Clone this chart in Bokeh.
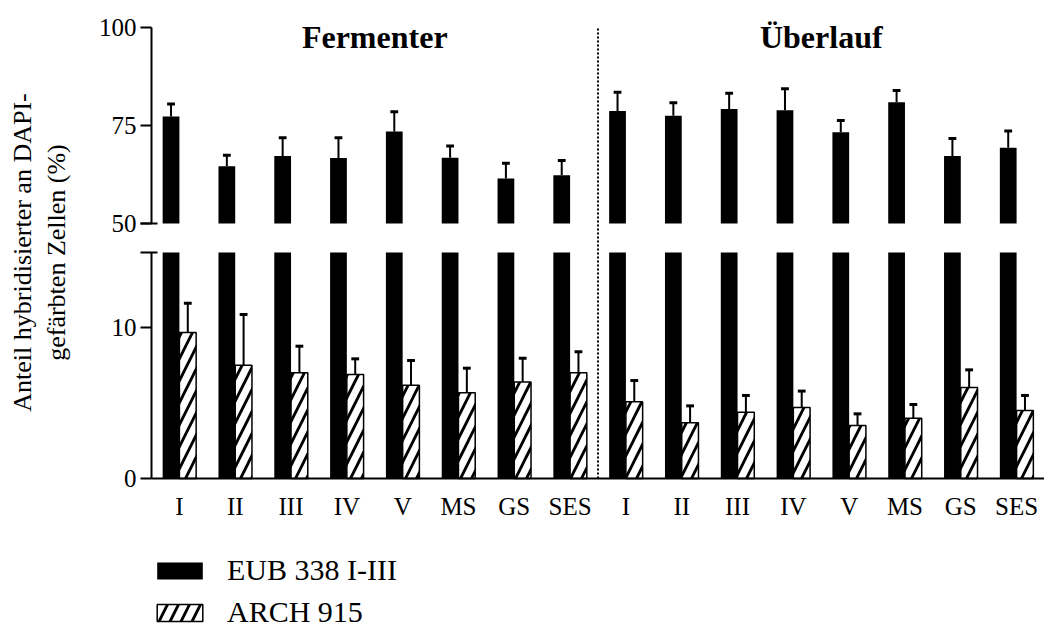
import numpy as np
from bokeh.plotting import figure
from bokeh.models import (Range1d, LinearAxis, FixedTicker, Label,
                          Legend, LegendItem, ColumnDataSource)
from bokeh.embed import file_html
from bokeh.resources import INLINE

# ---------------- data ----------------
categories = ["I", "II", "III", "IV", "V", "MS", "GS", "SES",
              "I", "II", "III", "IV", "V", "MS", "GS", "SES"]
group_names = ["Fermenter", "Überlauf"]
eub_338 = [77.3, 64.6, 67.2, 66.7, 73.5, 66.8, 61.5, 62.3,
           78.7, 77.5, 79.2, 78.9, 73.3, 80.9, 67.2, 69.3]
eub_338_err = [3.2, 2.8, 4.7, 5.2, 5.0, 3.0, 3.9, 3.8,
               4.8, 3.3, 4.0, 5.5, 3.0, 3.0, 4.5, 4.3]
arch_915 = [9.69, 7.52, 7.01, 6.90, 6.19, 5.69, 6.41, 7.01,
            5.09, 3.70, 4.40, 4.71, 3.52, 4.00, 6.04, 4.51]
arch_915_err = [1.94, 3.36, 1.77, 1.04, 1.64, 1.63, 1.57, 1.40,
                1.41, 1.12, 1.11, 1.09, 0.77, 0.91, 1.17, 1.00]
lower_ticks = [0, 10]
upper_ticks = [50, 75, 100]
lower_break = 15
upper_break = 50

FONT = "Liberation Serif"
W, H = 1044, 632

# ---------------- layout geometry (pixels) ----------------
frame_left = 151          # x of y axis
y0_px = 478               # pixel row of value 0 (lower panel)
lower_ppu = 15.07         # px per unit, lower panel
top_px = 27               # pixel row of value 100 (upper panel)
upper_ppu = 3.92          # px per unit, upper panel

n = len(categories)
xppu = (W - frame_left) / n
x_start = -0.5 - frame_left / xppu
lower_range = Range1d(-(H - y0_px) / lower_ppu, y0_px / lower_ppu)
upper_range = Range1d(upper_ticks[-1] - (H - top_px) / upper_ppu,
                      upper_ticks[-1] + top_px / upper_ppu)

idx = np.arange(n)
bw = 0.3
x_eub = idx - bw / 2
x_arch = idx + bw / 2
cap = 0.07

eub = np.array(eub_338)
eub_err = np.array(eub_338_err)
arch = np.array(arch_915)
arch_err = np.array(arch_915_err)

p = figure(width=W, height=H, x_range=Range1d(x_start, n - 0.5),
           y_range=lower_range, output_backend="svg", toolbar_location=None,
           min_border=0, min_border_left=0, min_border_right=0,
           min_border_top=0, min_border_bottom=0, outline_line_color=None,
           x_axis_location=None, y_axis_location=None)
p.grid.visible = False
p.extra_y_ranges = {"upper": upper_range}

# lower (broken) part of EUB bars
src_low = ColumnDataSource(dict(x=x_eub, top=np.minimum(eub, lower_break)))
p.vbar(x="x", top="top", bottom=0, width=bw, source=src_low,
       fill_color="black", line_color=None)
# upper part of EUB bars
src_up = ColumnDataSource(dict(x=x_eub, top=eub))
r_eub = p.vbar(x="x", top="top", bottom=upper_break, width=bw, source=src_up,
               fill_color="black", line_color=None, y_range_name="upper")
p.segment(x0=x_eub, y0=eub, x1=x_eub, y1=eub + eub_err, line_color="black",
          line_width=2, y_range_name="upper")
p.segment(x0=x_eub - cap, y0=eub + eub_err, x1=x_eub + cap, y1=eub + eub_err,
          line_color="black", line_width=3, y_range_name="upper")

# ARCH bars
p.segment(x0=x_arch, y0=arch, x1=x_arch, y1=arch + arch_err, line_color="black",
          line_width=2)
p.segment(x0=x_arch - cap, y0=arch + arch_err, x1=x_arch + cap, y1=arch + arch_err,
          line_color="black", line_width=3)
r_arch = p.vbar(x=x_arch, top=arch, bottom=0, width=bw, fill_color="white",
                line_color="black", line_width=1.5, hatch_pattern="/",
                hatch_color="black", hatch_scale=22, hatch_weight=2.8)

# separator between the two groups (from 0 up to the top of the upper axis)
sep_x = (n - 1) / 2
sep_top = (y0_px - top_px) / lower_ppu
p.segment(x0=[sep_x], y0=[0], x1=[sep_x], y1=[sep_top], line_color="black",
          line_dash="2 2", line_width=2)

# axes
common = dict(axis_line_width=2, axis_line_color="black",
              major_tick_line_width=2, major_tick_line_color="black",
              major_tick_in=0, major_tick_out=11,
              minor_tick_line_width=2, minor_tick_line_color="black",
              minor_tick_in=6, minor_tick_out=11,
              major_label_text_font=FONT, major_label_text_font_size="25px",
              major_label_text_color="black", major_label_standoff=4)
ya_low = LinearAxis(ticker=FixedTicker(ticks=lower_ticks, minor_ticks=[lower_break]),
                    bounds=(0, lower_break), fixed_location=-0.5, **common)
ya_up = LinearAxis(ticker=FixedTicker(ticks=upper_ticks, minor_ticks=[upper_break]),
                   bounds=(upper_break, upper_ticks[-1]), fixed_location=-0.5,
                   y_range_name="upper", **common)
p.add_layout(ya_low, "left")
p.add_layout(ya_up, "left")

xa = LinearAxis(ticker=FixedTicker(ticks=list(range(n))),
                major_label_overrides={i: c for i, c in enumerate(categories)},
                bounds=(-0.5, n - 0.5), fixed_location=0,
                axis_line_width=2, axis_line_color="black",
                major_tick_out=0, major_tick_in=0, minor_tick_out=0, minor_tick_in=0,
                major_label_text_font=FONT, major_label_text_font_size="25px",
                major_label_text_color="black", major_label_standoff=14)
p.add_layout(xa, "below")

# group titles
half = n // 2
for gi, name in enumerate(group_names):
    p.add_layout(Label(x=float(np.mean(idx[gi * half:(gi + 1) * half])), y=H - 36,
                       y_units="screen", text=name, text_align="center",
                       text_baseline="middle", text_font=FONT,
                       text_font_style="bold", text_font_size="32px",
                       text_color="black"))

# y axis title (two lines)
for xs, t in [(22, "Anteil hybridisierter an DAPI-"), (56, "gefärbten Zellen (%)")]:
    p.add_layout(Label(x=xs, y=H - 252, x_units="screen", y_units="screen", text=t,
                       angle=np.pi / 2, text_align="center", text_baseline="middle",
                       text_font=FONT, text_font_size="26px", text_color="black"))

legend = Legend(items=[LegendItem(label="EUB 338 I-III", renderers=[r_eub]),
                       LegendItem(label="ARCH 915", renderers=[r_arch])],
                location=(frame_left, 3), glyph_width=57, glyph_height=21,
                label_height=21, label_standoff=19, spacing=8, padding=0,
                margin=0, border_line_color=None, background_fill_alpha=0,
                label_text_font=FONT, label_text_font_size="30px",
                label_text_color="black", label_text_baseline="middle")
p.add_layout(legend)

open("out.html", "w").write(file_html(p, INLINE))
